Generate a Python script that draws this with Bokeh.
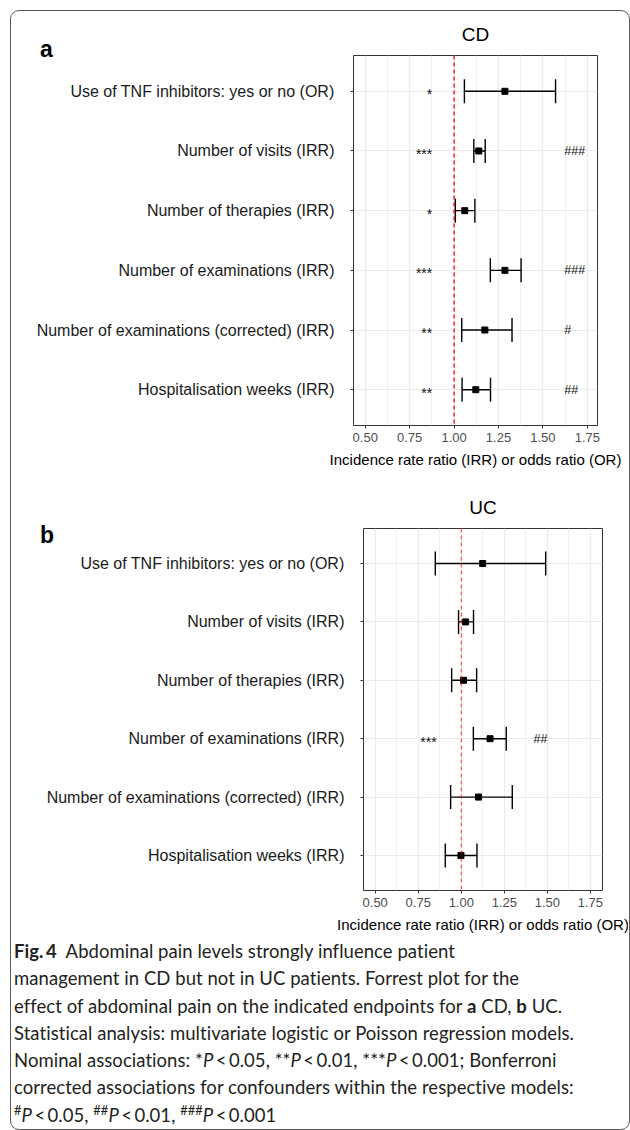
from bokeh.plotting import figure
from bokeh.models import (ColumnDataSource, FactorRange, Range1d, Span, Whisker, TeeHead,
                          FixedTicker, PrintfTickFormatter, Div)
from bokeh.layouts import column
from bokeh.embed import file_html
from bokeh.resources import INLINE
from bokeh.core.properties import value

# ---------------- data ----------------
endpoints = [
    "Use of TNF inhibitors: yes or no (OR)",
    "Number of visits (IRR)",
    "Number of therapies (IRR)",
    "Number of examinations (IRR)",
    "Number of examinations (corrected) (IRR)",
    "Hospitalisation weeks (IRR)",
]

cd_est = [1.286, 1.139, 1.060, 1.286, 1.173, 1.122]
cd_lo = [1.058, 1.111, 1.007, 1.204, 1.043, 1.045]
cd_hi = [1.571, 1.175, 1.117, 1.377, 1.326, 1.205]
cd_nominal = ["*", "***", "*", "***", "**", "**"]
cd_bonferroni = ["", "###", "", "###", "#", "##"]

uc_est = [1.124, 1.025, 1.013, 1.167, 1.100, 0.998]
uc_lo = [0.849, 0.984, 0.944, 1.070, 0.938, 0.907]
uc_hi = [1.490, 1.071, 1.089, 1.261, 1.296, 1.091]
uc_nominal = ["", "", "", "***", "", ""]
uc_bonferroni = ["", "", "", "##", "", ""]

x_ticks = [0.50, 0.75, 1.00, 1.25, 1.50, 1.75]
x_title = "Incidence rate ratio (IRR) or odds ratio (OR)"

FONT = "Liberation Sans"
LEFT = 360  # left border larger than the axis needs; panel shifted back with CSS


def make_panel(title, est, lo, hi, nominal, bonf, nom_x, bonf_x, xr,
               shift, fw, right, top, fh, bottom, ref_alpha):
    src = ColumnDataSource(dict(y=endpoints, est=est, lo=lo, hi=hi,
                                nom=nominal, bonf=bonf,
                                nx=[nom_x] * len(endpoints), bx=[bonf_x] * len(endpoints)))
    yr = FactorRange(factors=list(reversed(endpoints)), range_padding=0.1,
                     range_padding_units="absolute")
    p = figure(y_range=yr, x_range=Range1d(*xr), output_backend="svg",
               toolbar_location=None, frame_width=fw, frame_height=fh,
               min_border_left=LEFT, min_border_right=right,
               min_border_top=top, min_border_bottom=bottom,
               background_fill_color="white", border_fill_color=None,
               styles={"position": "relative", "left": f"{-shift}px"})
    p.outline_line_color = "#333333"
    p.outline_line_width = 1

    p.title.text = title
    p.title.align = "center"
    p.title.text_font = FONT
    p.title.text_font_size = "19px"
    p.title.text_font_style = "normal"
    p.title.text_color = "black"
    p.title.standoff = 21

    minor = [(a + b) / 2 for a, b in zip(x_ticks[:-1], x_ticks[1:])]
    p.xaxis.ticker = FixedTicker(ticks=x_ticks, minor_ticks=minor)
    p.xaxis.formatter = PrintfTickFormatter(format="%.2f")
    p.xaxis.axis_label = x_title
    p.xaxis.axis_label_text_font = FONT
    p.xaxis.axis_label_text_font_size = "15px"
    p.xaxis.axis_label_text_font_style = "normal"
    p.xaxis.axis_label_text_color = "black"
    p.xaxis.axis_label_standoff = 6
    p.xaxis.major_label_text_font = FONT
    p.xaxis.major_label_text_font_size = "13px"
    p.xaxis.major_label_text_color = "#4d4d4d"
    p.xaxis.major_label_standoff = 3

    p.yaxis.axis_label = None
    p.yaxis.major_label_text_font = FONT
    p.yaxis.major_label_text_font_size = "16px"
    p.yaxis.major_label_text_color = "#1a1a1a"
    p.yaxis.major_label_standoff = 16

    for ax in (p.xaxis, p.yaxis):
        ax.axis_line_color = None
        ax.major_tick_in = 0
        ax.major_tick_out = 3
        ax.major_tick_line_color = "#333333"
        ax.minor_tick_line_color = None

    p.xgrid.grid_line_color = "#ebebeb"
    p.xgrid.grid_line_width = 1.2
    p.xgrid.minor_grid_line_color = "#f0f0f0"
    p.xgrid.minor_grid_line_width = 1
    p.ygrid.grid_line_color = "#ebebeb"
    p.ygrid.grid_line_width = 1.2

    p.add_layout(Span(location=1.0, dimension="height", line_color="red",
                      line_alpha=ref_alpha, line_width=1.3, line_dash="4 3"))

    w = Whisker(base="y", lower="lo", upper="hi", dimension="width", source=src,
                line_color="black", line_width=1.4,
                lower_head=TeeHead(size=24, line_color="black", line_width=1.4),
                upper_head=TeeHead(size=24, line_color="black", line_width=1.4))
    p.add_layout(w)
    p.scatter(x="est", y="y", source=src, marker="square", size=6,
              fill_color="black", line_color="black")

    p.text(x="nx", y="y", text="nom", source=src, text_align="right",
           text_baseline="middle", text_font=value(FONT), text_font_size="14px",
           text_color="#111111", y_offset=3)
    p.text(x="bx", y="y", text="bonf", source=src, text_align="left",
           text_baseline="middle", text_font=value(FONT), text_font_size="12.5px",
           text_color="#111111")
    return p


# frame left edges: a -> 342 px, b -> 352 px inside the box
pa = make_panel("CD", cd_est, cd_lo, cd_hi, cd_nominal, cd_bonferroni,
                0.877, 1.62, (0.434, 1.807),
                LEFT - 342, 244, 31, 44, 370, 55, 1.0)
pb = make_panel("UC", uc_est, uc_lo, uc_hi, uc_nominal, uc_bonferroni,
                0.857, 1.42, (0.432, 1.82),
                LEFT - 352, 239, 26, 48, 362, 41, 0.6)


def letter_div(letter, left, top):
    return Div(text=f'<span style="font-family:\'Liberation Sans\', Arial, sans-serif; '
                    f'font-weight:bold; font-size:23px; line-height:23px; color:black;">{letter}</span>',
               width=20, height=23, margin=0,
               styles={"position": "absolute", "left": f"{left}px", "top": f"{top}px",
                       "z-index": "10"})


la = letter_div("a", 29, 27)
lb = letter_div("b", 29, 513)

frame_box = Div(text="", width=618, height=1118, margin=0,
                styles={"position": "absolute", "left": "-1px", "top": "-1px",
                        "box-sizing": "content-box", "width": "618px", "height": "1118px",
                        "border": "1px solid #5a5a5a", "border-radius": "9px",
                        "pointer-events": "none", "z-index": "20",
                        "background": "transparent"})

caption_html = (
    '<div style="font-family:Lato, Roboto, sans-serif; font-size:18.5px; line-height:27.3px;'
    ' letter-spacing:0.05px; color:#231f20; white-space:nowrap; margin-left:-2px; margin-top:-2px;">'
    '<b>Fig.&#8201;4</b>&nbsp; Abdominal pain levels strongly influence patient<br>'
    'management in CD but not in UC patients. Forrest plot for the<br>'
    'effect of abdominal pain on the indicated endpoints for <b>a</b> CD, <b>b</b> UC.<br>'
    'Statistical analysis: multivariate logistic or Poisson regression models.<br>'
    'Nominal associations: *<i>P</i>&#8201;&lt;&#8201;0.05, **<i>P</i>&#8201;&lt;&#8201;0.01, '
    '***<i>P</i>&#8201;&lt;&#8201;0.001; Bonferroni<br>'
    'corrected associations for confounders within the respective models:<br>'
    '<sup style="line-height:0; font-size:70%;">#</sup><i>P</i>&#8201;&lt;&#8201;0.05, '
    '<sup style="line-height:0; font-size:70%;">##</sup><i>P</i>&#8201;&lt;&#8201;0.01, '
    '<sup style="line-height:0; font-size:70%;">###</sup><i>P</i>&#8201;&lt;&#8201;0.001'
    '</div>'
)
cap = Div(text=caption_html, width=617, height=197)

layout = column(pa, pb, cap, la, lb, frame_box, spacing=0,
                styles={"margin-left": "11px", "margin-top": "11px",
                        "position": "relative"})

open("out.html", "w").write(file_html(layout, INLINE))
